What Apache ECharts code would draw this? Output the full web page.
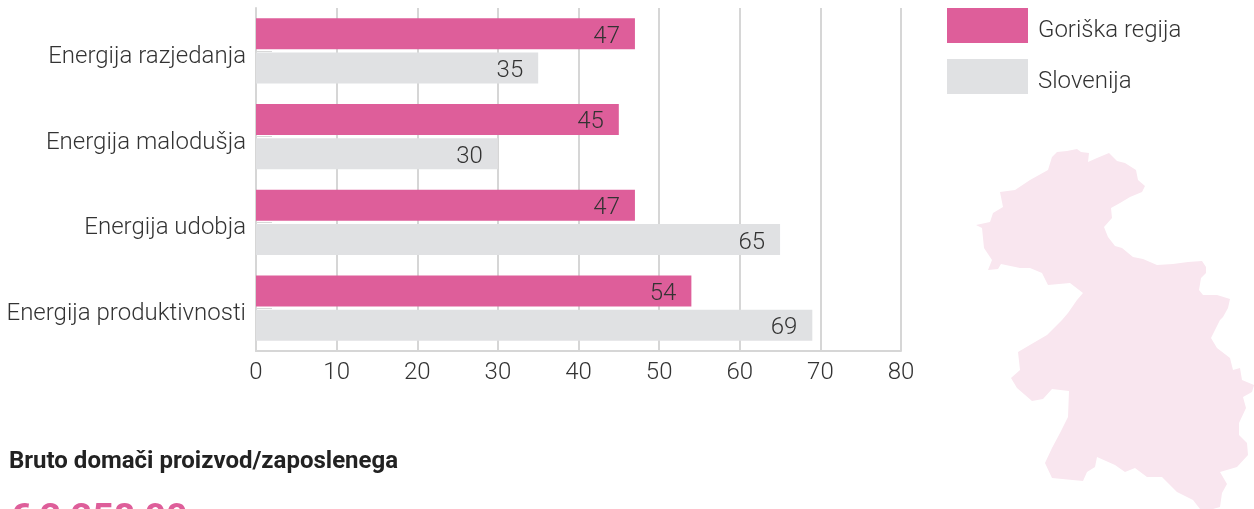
<!DOCTYPE html>
<html>
<head>
<meta charset="utf-8">
<style>
  html, body { margin: 0; padding: 0; background: #fff; }
  #chart { width: 1254px; height: 509px; }
</style>
<script src="https://cdn.jsdelivr.net/npm/echarts@6/dist/echarts.min.js"></script>
</head>
<body>
<div id="chart"></div>
<script>
const categories = ['Energija razjedanja', 'Energija malodušja', 'Energija udobja', 'Energija produktivnosti']
const goriskaValues = [47, 45, 47, 54]
const sloveniaValues = [35, 30, 65, 69]
const seriesNames = ['Goriška regija', 'Slovenija']
const indicatorTitle = 'Bruto domači proizvod/zaposlenega'
const indicatorValue = '€ 2 258,00'

// region silhouette, traced by hand, page pixels
const regionOutline = [
  [1057,152],[1067,151],[1077,149],[1081,152],[1089,153],[1088,162],[1097,158],[1109,153],[1117,161],[1125,163],
  [1136,170],[1138,180],[1145,186],[1142,192],[1130,197],[1120,203],[1111,208],[1112,218],[1104,227],[1108,237],
  [1115,246],[1122,248],[1133,257],[1143,259],[1157,265],[1173,264],[1188,262],[1202,261],[1206,267],[1206,273],
  [1201,278],[1199,290],[1203,295],[1217,295],[1230,299],[1228,308],[1223,317],[1220,320],[1211,338],[1217,348],
  [1230,358],[1233,370],[1240,368],[1242,380],[1254,385],[1252,392],[1243,397],[1246,408],[1239,423],[1239,435],
  [1247,443],[1248,455],[1237,467],[1220,472],[1227,484],[1222,493],[1220,507],[1213,509],[1200,509],[1193,500],
  [1177,492],[1162,477],[1147,477],[1135,468],[1125,472],[1115,465],[1097,457],[1095,467],[1087,472],[1083,481],
  [1052,478],[1045,463],[1052,448],[1060,433],[1068,417],[1069,391],[1052,389],[1043,399],[1032,401],[1017,388],
  [1011,378],[1020,370],[1018,352],[1035,342],[1047,335],[1062,320],[1068,313],[1077,300],[1083,293],[1070,283],
  [1048,285],[1042,273],[1030,268],[1020,268],[1001,264],[998,269],[988,270],[992,260],[984,248],[982,228],
  [976,225],[990,222],[993,213],[1003,207],[1000,192],[1015,190],[1030,180],[1048,170],[1052,157]
]

const fontFamily = 'Roboto'
const textColor = '#333'
const gridColor = '#d6d6d6'

const chart = echarts.init(document.getElementById('chart'), null, { renderer: 'canvas' })

const lightText = { fontFamily, fontWeight: 300, fontSize: 24, color: textColor }

const barLabel = {
  show: true,
  position: 'insideRight',
  distance: 15,
  offset: [0, 3],
  ...lightText
}

chart.setOption({
  animation: false,
  grid: { left: 256, right: 353, top: 8, bottom: 158 },
  legend: {
    left: 942,
    top: 3,
    orient: 'vertical',
    itemWidth: 81,
    itemHeight: 35,
    itemGap: 16,
    selectedMode: false,
    icon: 'rect',
    data: seriesNames,
    formatter: '{a|{name}}',
    textStyle: { ...lightText, rich: { a: { ...lightText, padding: [10, 0, 0, 5] } } }
  },
  xAxis: {
    type: 'value',
    min: 0,
    max: 80,
    interval: 10,
    axisLine: { show: true, lineStyle: { color: gridColor, width: 2 } },
    axisTick: { show: false },
    axisLabel: { ...lightText, margin: 10 },
    splitLine: { show: true, lineStyle: { color: gridColor, width: 2 } }
  },
  yAxis: {
    type: 'category',
    inverse: true,
    data: categories,
    axisLine: { show: true, onZero: false, lineStyle: { color: gridColor, width: 2 } },
    axisTick: { show: true, inside: true, length: 16, alignWithLabel: true, lineStyle: { color: '#d8d8d8', width: 1 } },
    axisLabel: {
      ...lightText,
      margin: 10,
      formatter: '{a|{value}}',
      rich: { a: { ...lightText, padding: [12, 0, 0, 0] } }
    }
  },
  series: [
    { name: seriesNames[0], type: 'bar', data: goriskaValues, barWidth: 31, barGap: '11%', itemStyle: { color: '#de5e9a' }, label: barLabel },
    { name: seriesNames[1], type: 'bar', data: sloveniaValues, barWidth: 31, itemStyle: { color: '#e0e1e3' }, label: barLabel }
  ],
  graphic: [
    {
      type: 'polygon',
      z: -1,
      shape: { points: regionOutline },
      style: { fill: '#f9e6ef' }
    },
    {
      type: 'text',
      left: 9,
      top: 450,
      style: { text: indicatorTitle, font: '700 24px Roboto', fill: '#222' }
    },
    {
      type: 'text',
      left: 9,
      top: 501,
      style: { text: indicatorValue, font: '700 37.5px Roboto', fill: '#de5e9a' }
    }
  ]
})

window.addEventListener('resize', () => chart.resize())
</script>
</body>
</html>
